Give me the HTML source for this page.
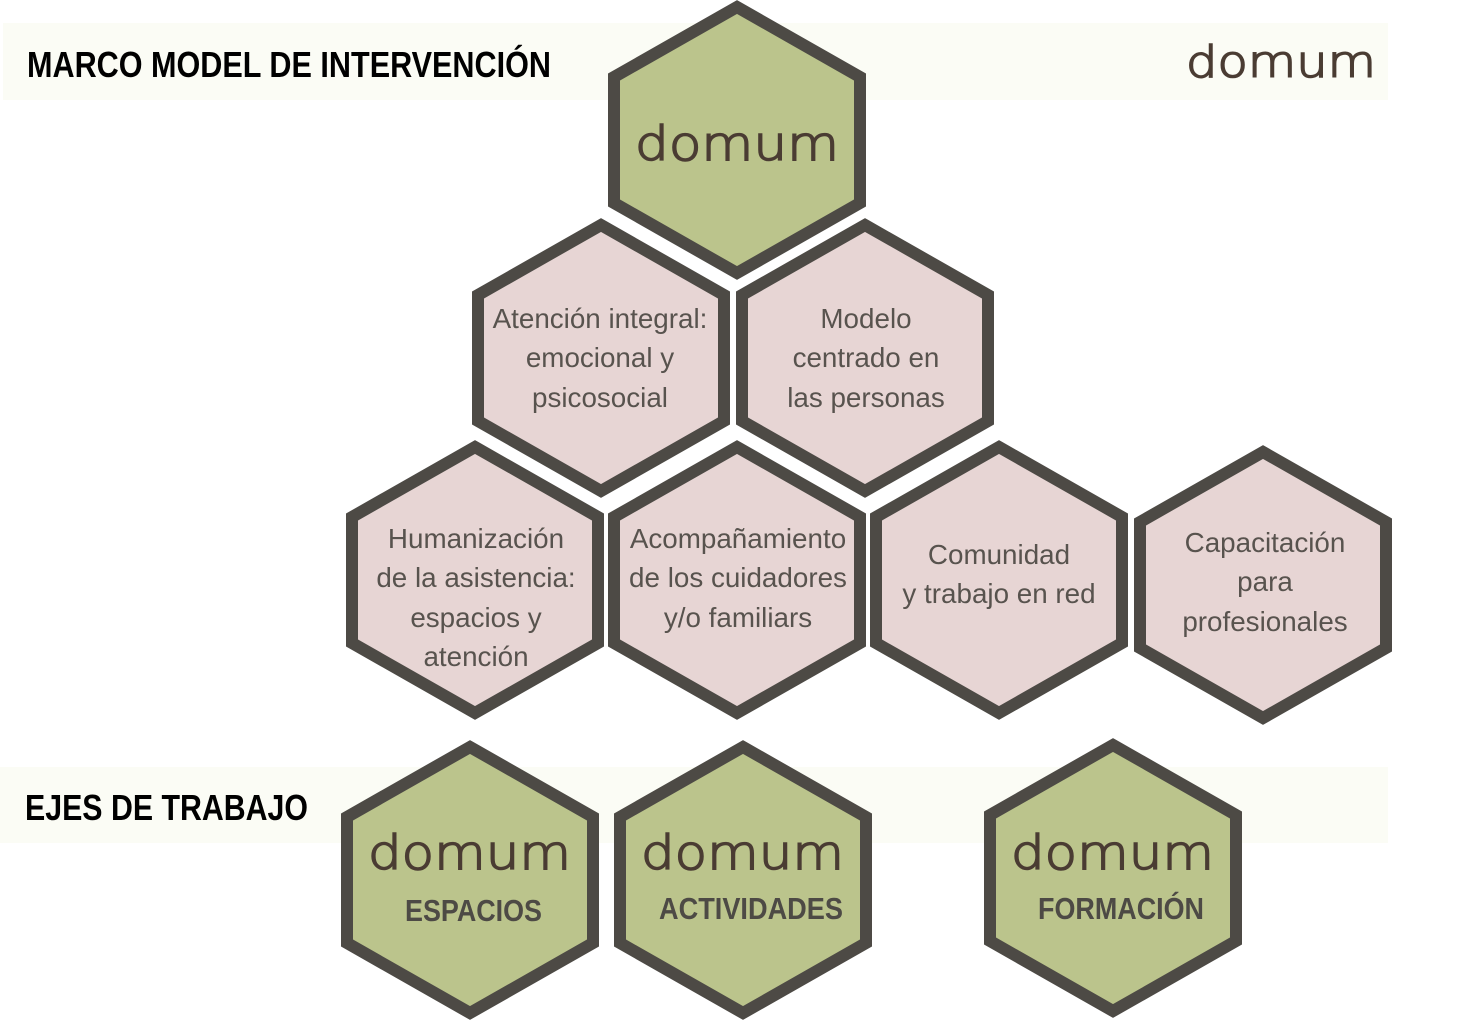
<!DOCTYPE html>
<html><head><meta charset="utf-8"><style>
html,body{margin:0;padding:0;background:#fff;}
svg{display:block;}
.t{font-family:"Liberation Sans",sans-serif;font-size:27.8px;fill:#58534e;text-anchor:middle;}
.h{font-family:"Liberation Sans Narrow","Liberation Sans",sans-serif;font-weight:bold;fill:#000;}
.g{font-family:"Liberation Sans Narrow","Liberation Sans",sans-serif;font-weight:bold;fill:#4d4a45;font-size:31px;}
.d{font-family:"DejaVu Sans ExtraLight","DejaVu Sans","Liberation Sans",sans-serif;font-weight:200;fill:#4a3c33;stroke:#4a3c33;stroke-width:1.6;}
</style></head><body>
<svg width="1459" height="1020" viewBox="0 0 1459 1020" xmlns="http://www.w3.org/2000/svg">
<defs>
<polygon id="hx" points="0,-133 123,-63 123,63 0,133 -123,63 -123,-63"/>
</defs>
<rect x="3" y="23" width="1385" height="77" fill="#fbfcf5"/>
<rect x="0" y="767" width="1388" height="76" fill="#fbfcf5"/>
<text class="h" x="27" y="77" font-size="36" textLength="524" lengthAdjust="spacingAndGlyphs">MARCO MODEL DE INTERVENCIÓN</text>
<text class="h" x="25" y="820" font-size="36" textLength="283" lengthAdjust="spacingAndGlyphs">EJES DE TRABAJO</text>
<text class="d" x="1186" y="77" font-size="44" textLength="190" lengthAdjust="spacingAndGlyphs">domum</text>

<g stroke="#4d4a45" stroke-width="12" stroke-linejoin="miter">
<use href="#hx" x="737" y="140" fill="#bbc48c"/>
<use href="#hx" x="601" y="358" fill="#e7d5d4"/>
<use href="#hx" x="865" y="358" fill="#e7d5d4"/>
<use href="#hx" x="475" y="580" fill="#e7d5d4"/>
<use href="#hx" x="737" y="580" fill="#e7d5d4"/>
<use href="#hx" x="999" y="580" fill="#e7d5d4"/>
<use href="#hx" x="1263" y="585" fill="#e7d5d4"/>
<use href="#hx" x="470" y="880" fill="#bbc48c"/>
<use href="#hx" x="743" y="880" fill="#bbc48c"/>
<use href="#hx" x="1113" y="878" fill="#bbc48c"/>
</g>

<text class="d" x="635" y="160" font-size="47" textLength="204" lengthAdjust="spacingAndGlyphs">domum</text>
<text class="d" x="368" y="869" font-size="47" textLength="203" lengthAdjust="spacingAndGlyphs">domum</text>
<text class="d" x="641" y="869" font-size="47" textLength="203" lengthAdjust="spacingAndGlyphs">domum</text>
<text class="d" x="1011" y="869" font-size="47" textLength="203" lengthAdjust="spacingAndGlyphs">domum</text>

<text class="g" x="405" y="921" textLength="137" lengthAdjust="spacingAndGlyphs">ESPACIOS</text>
<text class="g" x="659" y="919" textLength="184" lengthAdjust="spacingAndGlyphs">ACTIVIDADES</text>
<text class="g" x="1038" y="919" textLength="166" lengthAdjust="spacingAndGlyphs">FORMACIÓN</text>

<text class="t" x="600" y="328">Atención integral:</text>
<text class="t" x="600" y="367">emocional  y</text>
<text class="t" x="600" y="407">psicosocial</text>

<text class="t" x="866" y="328">Modelo</text>
<text class="t" x="866" y="367">centrado en</text>
<text class="t" x="866" y="407">las personas</text>

<text class="t" x="476" y="548">Humanización</text>
<text class="t" x="476" y="587">de la asistencia:</text>
<text class="t" x="476" y="627">espacios  y</text>
<text class="t" x="476" y="666">atención</text>

<text class="t" x="738" y="548">Acompañamiento</text>
<text class="t" x="738" y="587">de los cuidadores</text>
<text class="t" x="738" y="627">y/o familiars</text>

<text class="t" x="999" y="564">Comunidad</text>
<text class="t" x="999" y="603">y trabajo en red</text>

<text class="t" x="1265" y="552">Capacitación</text>
<text class="t" x="1265" y="591">para</text>
<text class="t" x="1265" y="631">profesionales</text>
</svg>
</body></html>
